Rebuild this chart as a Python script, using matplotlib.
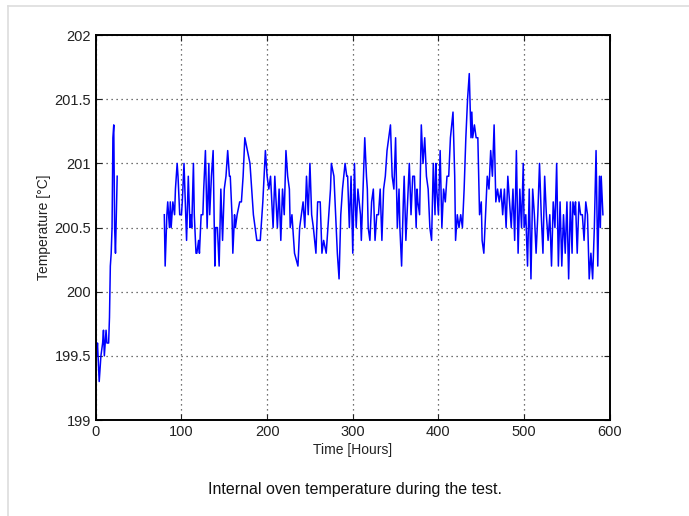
import numpy as np
import matplotlib
matplotlib.use('Agg')
import matplotlib.pyplot as plt

# warm-up period (hours, deg C)
warmup_hours = [0, 1, 2, 4, 6, 8, 9, 10, 12, 13, 15, 16, 17, 18, 19, 20, 21, 22, 23, 24, 25]
warmup_temp = [199.6, 199.5, 199.6, 199.3, 199.5, 199.6, 199.7, 199.5, 199.7, 199.6, 199.6,
               199.8, 200.2, 200.3, 200.5, 201.2, 201.3, 200.5, 200.3, 200.6, 200.9]

# test period
test_hours = [80, 81, 83, 84, 86, 87, 88, 90, 92, 93, 95, 96, 98, 100,
              101, 103, 105, 106, 108, 110, 111, 112, 114, 115, 117, 118, 120,
              121, 123, 125, 126, 128, 130, 132, 133, 135, 137, 139, 140,
              142, 144, 146, 148, 150, 152, 154, 156, 157, 159, 160,
              162, 163, 165, 168, 170, 172, 174, 177, 180,
              182, 184, 186, 188, 190, 192, 193, 195, 198, 200,
              202, 204, 207, 209, 212, 214, 216, 218, 220,
              222, 224, 226, 227, 229, 232, 236, 238, 240,
              242, 244, 246, 248, 250, 252, 254, 257, 259, 262,
              264, 266, 269, 271, 274, 275, 278, 280,
              282, 284, 286, 288, 291, 293, 294, 296, 298, 300,
              302, 303, 304, 306, 309, 310, 312, 313, 314, 316, 317, 318, 320,
              322, 324, 326, 328, 330, 332, 334, 336, 338, 340,
              342, 344, 346, 348, 350, 352, 354, 355, 357, 359, 360,
              362, 364, 366, 368, 370, 372, 374, 375, 376, 378, 380,
              382, 384, 386, 388, 390, 392, 394, 396, 397, 398, 400,
              402, 404, 406, 408, 410, 412, 414, 417, 419, 420,
              422, 424, 426, 428, 430, 432, 434, 436, 438, 439, 440,
              442, 444, 446, 448, 450, 451, 453, 455, 457, 459, 461,
              463, 465, 467, 469, 471, 473, 475, 477, 479, 481,
              483, 485, 487, 489, 491, 493, 495, 497, 499, 500,
              502, 504, 506, 508, 510, 512, 514, 516, 518, 520,
              522, 524, 526, 528, 530, 532, 534, 536, 538, 540,
              542, 544, 546, 548, 550, 552, 554, 556, 557, 559, 560,
              562, 564, 566, 568, 570, 572, 574, 576, 578, 580,
              582, 584, 586, 588, 589, 590, 592]
test_temp = [200.6, 200.2, 200.6, 200.7, 200.5, 200.7, 200.5, 200.7, 200.6, 200.8, 201.0, 200.9, 200.6, 200.6,
             200.7, 201.0, 200.6, 200.4, 200.9, 200.5, 200.6, 200.5, 201.0, 200.6, 200.3, 200.3, 200.4,
             200.3, 200.6, 200.6, 200.8, 201.1, 200.5, 201.0, 200.6, 200.9, 201.1, 200.2, 200.5,
             200.5, 200.2, 200.8, 200.4, 200.8, 200.9, 201.1, 200.9, 200.9, 200.6, 200.3,
             200.6, 200.5, 200.6, 200.7, 200.7, 200.9, 201.2, 201.1, 201.0,
             200.8, 200.6, 200.5, 200.4, 200.4, 200.4, 200.5, 200.7, 201.1, 200.9,
             200.8, 200.9, 200.5, 200.9, 200.5, 200.8, 200.4, 200.8, 200.6,
             201.1, 200.9, 200.8, 200.5, 200.6, 200.3, 200.2, 200.5, 200.6,
             200.7, 200.5, 200.9, 200.6, 201.0, 200.6, 200.5, 200.3, 200.7, 200.7,
             200.3, 200.4, 200.3, 200.5, 200.8, 201.0, 200.9, 200.6,
             200.3, 200.1, 200.6, 200.8, 201.0, 200.9, 200.9, 200.5, 200.9, 200.3,
             201.0, 200.7, 200.5, 200.8, 200.6, 200.4, 200.8, 201.0, 201.2, 200.9, 200.8, 200.5, 200.4,
             200.7, 200.8, 200.4, 200.6, 200.6, 200.8, 200.4, 200.8, 200.9, 201.1,
             201.2, 201.3, 200.9, 200.8, 201.2, 200.5, 200.8, 200.5, 200.2, 200.7, 200.9,
             200.4, 200.7, 201.0, 200.6, 200.9, 200.9, 200.5, 200.8, 200.7, 200.6, 201.3,
             201.0, 201.2, 200.9, 200.8, 200.5, 200.4, 201.0, 200.6, 201.0, 200.8, 200.6,
             201.1, 200.5, 200.8, 200.7, 200.9, 200.9, 201.2, 201.4, 200.9, 200.4,
             200.6, 200.5, 200.6, 200.5, 200.8, 201.2, 201.5, 201.7, 201.2, 201.4, 201.2,
             201.3, 201.2, 201.2, 200.6, 200.7, 200.4, 200.3, 200.6, 200.9, 200.8, 201.1,
             200.9, 201.3, 200.7, 200.8, 200.7, 200.8, 200.6, 200.8, 200.5, 200.9,
             200.7, 200.5, 200.8, 200.4, 201.1, 200.3, 200.8, 200.5, 201.0, 200.5,
             200.6, 200.2, 200.8, 200.1, 200.8, 200.6, 200.3, 200.6, 201.0, 200.6,
             200.3, 200.9, 200.6, 200.4, 200.6, 200.2, 200.7, 200.5, 201.0, 200.2,
             200.7, 200.2, 200.6, 200.3, 200.7, 200.1, 200.7, 200.3, 200.7, 200.6, 200.7,
             200.3, 200.7, 200.6, 200.6, 200.4, 200.7, 200.6, 200.1, 200.3, 200.1,
             200.5, 201.1, 200.2, 200.9, 200.5, 200.9, 200.6]

x_ticks = [0, 100, 200, 300, 400, 500, 600]
y_ticks = [199, 199.5, 200, 200.5, 201, 201.5, 202]
y_ticklabels = ['199', '199.5', '200', '200.5', '201', '201.5', '202']

plt.rcParams['font.family'] = ['Liberation Sans', 'DejaVu Sans']

fig = plt.figure(figsize=(6.89, 5.16), dpi=100)
ax = fig.add_axes([0.139, 0.186, 0.746, 0.746])

# break the line over the logging gap
hours = warmup_hours + [np.nan] + test_hours
temp = warmup_temp + [np.nan] + test_temp
ax.plot(hours, temp, color=(0, 0, 1), lw=1.1)

ax.set_xlim(0, 600)
ax.set_ylim(199, 202)
ax.set_xticks(x_ticks)
ax.set_yticks(y_ticks)
ax.set_yticklabels(y_ticklabels)
ax.grid(True, linestyle=(0, (1, 3)), color='#444444', lw=0.9)
ax.tick_params(direction='in', top=True, right=True, labelsize=10.5, colors='#222222', length=4)
for s in ax.spines.values():
    s.set_linewidth(1.4)

ax.set_xlabel('Time [Hours]', fontsize=10, color='#222222', labelpad=3)
ax.set_ylabel('Temperature [°C]', fontsize=10, color='#222222', labelpad=2)

fig.text(0.515, 0.042, 'Internal oven temperature during the test.', ha='center', fontsize=11.5, color='#111111')

# light frame around the figure
fig.add_artist(plt.Line2D([0.011, 1.0], [0.988, 0.988], color='#dddddd', lw=1.2))
fig.add_artist(plt.Line2D([0.011, 0.011], [0.0, 0.988], color='#dddddd', lw=1.2))

fig.savefig('out.png', dpi=100)
